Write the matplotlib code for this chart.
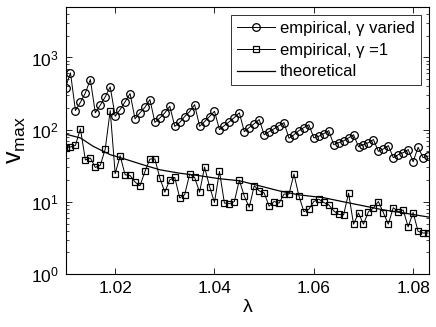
import numpy as np
import matplotlib
matplotlib.use("Agg")
import matplotlib.pyplot as plt
from matplotlib.ticker import LogLocator, FixedLocator, NullFormatter

plt.rcParams['font.family'] = ['Liberation Sans', 'DejaVu Sans']
plt.rcParams['mathtext.fontset'] = 'custom'
plt.rcParams['mathtext.rm'] = 'Liberation Sans'
plt.rcParams['mathtext.it'] = 'Liberation Sans:italic'

# lambda grid of the two empirical series (step 0.001)
lam = np.round(np.arange(1.010, 1.0835, 0.001), 3)

# empirical, gamma varied
v_varied = [383, 613, 184, 239, 323, 495, 171, 218, 285, 392,
            153, 190, 243, 316, 141, 171, 204, 261, 126, 145,
            171, 211, 111, 126, 152, 178, 222, 111, 129, 152,
            180, 100, 114, 129, 147, 171, 94, 107, 121, 138,
            85, 94, 103, 114, 125, 76, 85, 97, 107, 117,
            77, 81, 88, 97, 62, 66, 70, 77, 85, 58,
            62, 66, 73, 50, 54, 60, 41, 45, 48, 53,
            36, 57, 41, 43]

# empirical, gamma = 1
v_gamma1 = [56, 57.5, 60.5, 103, 38, 40.5, 30, 32, 54, 184,
            24.5, 43.5, 23.7, 23.2, 18.8, 16.7, 26.4, 39.2, 39.2, 21.3,
            13.6, 20.2, 21.8, 11.3, 12.6, 24.3, 21.8, 13.6, 30.3, 16.3,
            9.8, 26.4, 9.6, 9.4, 10.1, 20, 12, 8.4, 16.7, 14.2,
            13.3, 8.7, 10.1, 9.6, 12.8, 12.8, 24.3, 12.1, 7.3, 7.9,
            10.1, 10.9, 9.8, 9.1, 7.5, 6.7, 6.6, 13.2, 4.9, 7.0,
            4.9, 7.3, 8.2, 10.1, 7.1, 4.9, 8.3, 7.3, 7.7, 4.5,
            7.1, 3.9, 3.7, 3.7]

# theoretical curve, read at a few lambda values
lam_th = [1.0099, 1.013, 1.0156, 1.019, 1.0224, 1.0256, 1.029, 1.033, 1.037, 1.041,
          1.045, 1.049, 1.053, 1.057, 1.062, 1.066, 1.070, 1.074, 1.078, 1.0835]
v_th = [87.1, 76.7, 58.6, 45, 38.3, 32.6, 27.8, 24.9, 23, 20.9,
        19.6, 16.7, 14.2, 12.5, 11.4, 10, 8.8, 7.74, 7.03, 6.09]

fig = plt.figure(figsize=(4.36, 3.27), dpi=100)
ax = fig.add_axes([0.1514, 0.162, 0.8326, 0.8166])

ax.semilogy(lam, v_varied, '-o', color='k', lw=0.7, ms=5.5, mfc='none', mew=0.9,
            label='empirical, γ varied')
ax.semilogy(lam, v_gamma1, '-s', color='k', lw=0.7, ms=4.5, mfc='none', mew=0.9,
            label='empirical, γ =1')
ax.semilogy(lam_th, v_th, '-', color='k', lw=0.9, label='theoretical')

ax.set_xlim(1.0101, 1.0832)
ax.set_ylim(1, 5000)
ax.xaxis.set_major_locator(FixedLocator([1.02, 1.04, 1.06, 1.08]))
ax.set_xticklabels(['1.02', '1.04', '1.06', '1.08'])
ax.yaxis.set_major_locator(FixedLocator([1, 10, 100, 1000]))
ax.set_yticklabels([r'$10^0$', r'$10^1$', r'$10^2$', r'$10^3$'])
ax.yaxis.set_minor_locator(LogLocator(base=10, subs=np.arange(2, 10)))
ax.yaxis.set_minor_formatter(NullFormatter())

ax.tick_params(which='both', direction='in', top=True, right=True, labelsize=12.5, pad=5)
ax.tick_params(which='major', length=4, width=0.6)
ax.tick_params(which='minor', length=2.2, width=0.5)
for s in ax.spines.values():
    s.set_linewidth(0.8)

ax.set_xlabel('λ', fontsize=14, labelpad=2)
ax.set_ylabel(r'$\mathrm{v_{max}}$', fontsize=18, labelpad=2)

leg = ax.legend(loc='upper right', fontsize=12, frameon=True, fancybox=False,
                edgecolor='k', handlelength=2.3, handletextpad=0.3,
                borderpad=0.35, labelspacing=0.4, borderaxespad=0.5)
leg.get_frame().set_linewidth(0.7)

fig.savefig('out.png', dpi=100)
